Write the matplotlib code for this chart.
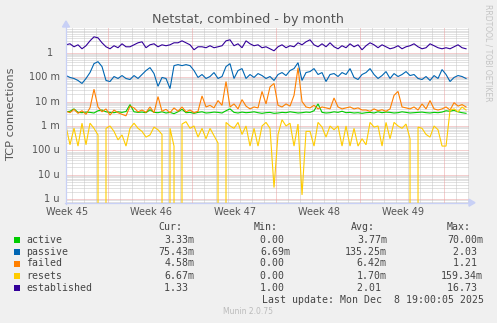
import numpy as np
import matplotlib
matplotlib.use('Agg')
import matplotlib.pyplot as plt
from matplotlib.patches import Rectangle, Polygon
from matplotlib.lines import Line2D

# ---------------- data ----------------
sample_hours = 8  # one sample every 8 hours
days_shown = 33.58

active_m = [3.8, 4.0, 5.0, 3.6, 3.5, 3.7, 3.6, 3.4, 4.2, 4.5, 3.8, 3.6, 3.5, 3.8, 3.6, 3.9, 7.5, 3.8, 3.6, 3.7, 3.5, 4.6, 3.6, 3.5, 3.8, 3.4,
            3.6, 3.2, 3.8, 4.8, 3.5, 3.6, 3.3, 3.6, 3.8, 3.4, 3.5, 3.7, 3.6, 3.4, 4.2, 5.0, 3.6, 3.4, 3.7, 3.5, 3.6, 3.8, 3.5, 3.3,
            3.5, 3.6, 3.3, 3.4, 3.6, 3.5, 3.8, 3.6, 3.4, 3.5, 3.7, 3.6, 4.2, 8.0, 3.6, 3.4, 3.5, 3.8, 3.6, 4.0, 3.5, 3.6, 3.4, 3.5, 3.3,
            3.5, 3.6, 3.4, 3.8, 3.5, 3.7, 3.6, 3.4, 3.5, 3.8, 3.6, 3.4, 3.5, 3.6, 3.7, 3.5, 3.4, 3.6, 3.5, 3.7, 4.2, 4.0, 4.4, 3.8, 3.5, 3.3]

passive_m = [116, 97, 88, 73, 55, 88, 154, 357, 430, 270, 73, 66, 106, 88, 116, 88, 80, 116, 88, 128, 186, 246, 140, 42, 97, 88,
             34, 296, 325, 296, 325, 296, 186, 97, 128, 88, 106, 154, 88, 106, 270, 357, 88, 186, 224, 88, 128, 97, 140, 116,
             88, 106, 73, 128, 154, 116, 186, 224, 390, 73, 154, 169, 224, 128, 154, 66, 128, 140, 106, 154, 128, 224, 97, 80, 128,
             154, 224, 128, 88, 116, 169, 88, 140, 106, 128, 169, 116, 128, 88, 80, 106, 73, 116, 88, 204, 128, 66, 97, 116, 106, 88]

failed_m = [4.0, 3.5, 4.8, 3.3, 4.2, 3.0, 5.5, 32, 6.0, 3.8, 5.0, 2.8, 4.5, 3.5, 3.0, 2.6, 6.5, 5.5, 3.8, 4.5, 3.6, 6.0, 3.5, 16, 4.0, 4.8,
            3.5, 5.5, 4.0, 6.0, 3.8, 4.5, 3.5, 4.0, 17, 6.0, 7.0, 5.5, 11, 7.0, 66, 6.0, 8.0, 5.0, 12, 6.5, 5.0, 6.0, 5.5, 26,
            8.0, 40, 55, 7.0, 6.0, 8.0, 6.5, 18, 240, 10, 6.0, 5.5, 7.0, 5.0, 6.0, 5.5, 5.0, 14, 6.0, 5.0, 5.5, 6.0, 5.0, 5.5, 4.5,
            4.5, 4.0, 5.0, 4.2, 4.6, 4.0, 5.0, 18, 26, 6.0, 5.5, 5.0, 6.0, 4.5, 8.0, 5.0, 11, 5.0, 4.5, 5.0, 6.0, 4.5, 9.0, 6.5, 7.5, 6.0]

resets_m = [0.97, 0.17, 0.81, 0.15, 1.3, 0.17, 1.3, 0.8, 0.43, 0, 0.8, 1.0, 0.6, 0.27, 0.43, 0.15, 0.8, 1.3, 0.8, 0.6, 0.35, 0.43, 0.9, 0.7, 0.45, 0,
            0.8, 0.15, 0, 1.2, 1.5, 0.8, 1.0, 0.35, 0.8, 0.3, 0.8, 0.4, 0.2, 0, 1.4, 1.0, 0.8, 1.4, 0.45, 1.0, 0.15, 0.8, 0.15, 1.0,
            1.4, 0.8, 0.003, 0.45, 1.8, 1.0, 1.3, 0.15, 1.2, 0.0015, 0.6, 0.6, 0.15, 1.4, 0.9, 0.35, 1.0, 0.7, 1.0, 0.15, 1.0, 0.15, 0.8, 0.15, 0.3,
            0.17, 1.4, 0.9, 1.0, 0.15, 1.4, 0.3, 1.4, 1.0, 0.8, 1.2, 0.3, 0, 0.9, 0.8, 0.45, 0.35, 1.0, 0.7, 0.15, 0.15, 4.4, 5.0, 3.8, 6.0, 4.5]

established = [2.11, 2.32, 1.75, 2.11, 1.45, 1.93, 3.07, 4.47, 4.07, 2.55, 1.75, 1.45, 1.93, 1.60, 2.32, 1.75, 1.75, 2.11, 2.55, 2.80, 1.60, 2.11, 2.32, 1.75, 2.11, 1.93,
               2.11, 2.55, 2.55, 3.07, 2.55, 2.11, 1.32, 1.75, 1.75, 1.60, 1.93, 1.60, 1.75, 1.93, 3.07, 3.38, 1.93, 2.32, 1.60, 3.07, 2.32, 1.93, 2.11, 1.60,
               1.75, 1.45, 1.20, 1.75, 2.11, 1.60, 1.93, 1.75, 2.55, 2.11, 2.80, 3.38, 2.11, 1.75, 2.32, 1.75, 2.55, 1.75, 1.45, 1.93, 1.60, 2.32, 1.75, 2.11, 1.32,
               1.93, 2.55, 2.11, 1.60, 2.11, 1.75, 1.45, 1.60, 1.93, 1.45, 1.75, 1.93, 2.32, 1.75, 1.45, 1.60, 2.32, 1.93, 1.60, 1.45, 1.60, 1.45, 1.75, 2.11, 1.60, 1.45]

names = ['active', 'passive', 'failed', 'resets', 'established']
colors = ['#00CC00', '#0066B3', '#FF8000', '#FFCC00', '#330099']
cur_vals = ['3.33m', '75.43m', '4.58m', '6.67m', '1.33 ']
min_vals = ['0.00 ', '6.69m', '0.00 ', '0.00 ', '1.00 ']
avg_vals = ['3.77m', '135.25m', '6.42m', '1.70m', '2.01 ']
max_vals = ['70.00m', '2.03 ', '1.21 ', '159.34m', '16.73 ']

week_days = [0, 7, 14, 21, 28]
week_labels = ['Week 45', 'Week 46', 'Week 47', 'Week 48', 'Week 49']
ytick_vals = [1e-6, 1e-5, 1e-4, 1e-3, 1e-2, 1e-1, 1]
ytick_labels = ['1 u', '10 u', '100 u', '1 m', '10 m', '100 m', '1']

title = 'Netstat, combined - by month'
ylabel = 'TCP connections'
last_update = 'Last update: Mon Dec  8 19:00:05 2025'
footer = 'Munin 2.0.75'
side_text = 'RRDTOOL / TOBI OETIKER'

# ---------------- layout ----------------
W, H, DPI = 497, 323, 100
L, R, T, B = 66, 469, 28.3, 202.7

def fx(p):
    return p / W

def fy(p):
    return 1 - p / H

fig = plt.figure(figsize=(W / DPI, H / DPI), dpi=DPI, facecolor='#F0F0F0')
ax = fig.add_axes([fx(L), fy(B), (R - L) / W, (B - T) / H])
ax.set_facecolor('white')
ax.set_yscale('log', nonpositive='clip')
ax.set_ylim(7.2e-7, 10)
ax.set_xlim(0, days_shown)
ax.set_xticks([])
ax.set_yticks([])
ax.minorticks_off()
for s in ax.spines.values():
    s.set_visible(False)

minor_c = '#C6C6C6'
major_c = '#EBA0A0'
dot = (0, (1, 1))
# horizontal grid
for d in range(-7, 1):
    for k in range(2, 10):
        v = k * 10.0 ** d
        if 7.2e-7 < v < 10:
            ax.axhline(v, color=minor_c, lw=0.72, ls=dot, zorder=1)
for v in ytick_vals:
    ax.axhline(v, color=major_c, lw=0.72, ls=dot, zorder=1.5)
# vertical grid
for d in np.arange(0.5, days_shown, 1.0):
    if abs(((d - 3.5) % 7)) < 1e-6:
        ax.axvline(d, color=major_c, lw=0.72, ls=dot, zorder=1.5)
    else:
        ax.axvline(d, color=minor_c, lw=0.72, ls=dot, zorder=1)

# series
t = np.arange(len(active_m)) * sample_hours / 24.0
series = [np.array(active_m) * 1e-3, np.array(passive_m) * 1e-3, np.array(failed_m) * 1e-3,
          np.array(resets_m) * 1e-3, np.array(established)]
for i, (y, c) in enumerate(zip(series, colors)):
    ax.plot(t, y, color=c, lw=0.8, zorder=3 + i, solid_joinstyle='miter')

# axis lines with arrows
axis_c = '#C8D0F6'
fig.add_artist(Line2D([fx(L), fx(L)], [fy(B + 1), fy(25)], color=axis_c, lw=0.9))
fig.add_artist(Line2D([fx(L - 1), fx(470)], [fy(B), fy(B)], color=axis_c, lw=0.9))
fig.add_artist(Polygon([[fx(L - 3.5), fy(27)], [fx(L + 3.5), fy(27)], [fx(L), fy(21)]],
                       closed=True, color=axis_c))
fig.add_artist(Polygon([[fx(469), fy(B - 3.5)], [fx(469), fy(B + 3.5)], [fx(475), fy(B)]],
                       closed=True, color=axis_c))

text_c = '#555555'
# y tick labels
for v, lab in zip(ytick_vals, ytick_labels):
    off = 13 if lab == '1' else 6
    ax.text(-off / (R - L), v, lab, transform=ax.get_yaxis_transform(), ha='right', va='center',
            fontsize=7, color=text_c, family='DejaVu Sans')
# x labels
for d, lab in zip(week_days, week_labels):
    ax.text(d + 0.08, -9.3 / (B - T), lab, transform=ax.get_xaxis_transform(), ha='center', va='center',
            fontsize=7, color=text_c, family='DejaVu Sans')

fig.text(fx(247.5), fy(19), title, ha='center', va='center', fontsize=9.2, color=text_c, family='DejaVu Sans')
fig.text(fx(11), fy(114), ylabel, rotation=90, ha='center', va='center', fontsize=8.2, color=text_c,
         family='DejaVu Sans')
fig.text(fx(488), fy(53), side_text, rotation=270, ha='center', va='center', fontsize=5.5, color='#C4C4C4',
         family='DejaVu Sans')

# legend
mono = 'DejaVu Sans Mono'
cw = 5.97
lfs = 7.1
leg_c = '#444444'
fig.text(fx(158), fy(227.3), 'Cur:', ha='left', va='center', fontsize=lfs, family=mono, color=leg_c)
fig.text(fx(254), fy(227.3), 'Min:', ha='left', va='center', fontsize=lfs, family=mono, color=leg_c)
fig.text(fx(351), fy(227.3), 'Avg:', ha='left', va='center', fontsize=lfs, family=mono, color=leg_c)
fig.text(fx(447), fy(227.3), 'Max:', ha='left', va='center', fontsize=lfs, family=mono, color=leg_c)
row_y = [239.7, 252.0, 263.5, 275.7, 287.7]
col_right = [194.3, 290.0, 386.7, 482.7]
for i, nm in enumerate(names):
    yy = row_y[i]
    fig.add_artist(Rectangle((fx(14), fy(yy + 3)), 6 / W, 6 / H, facecolor=colors[i], edgecolor='none'))
    fig.text(fx(26), fy(yy), nm, ha='left', va='center', fontsize=lfs, family=mono, color=leg_c)
    for vals, rx in zip([cur_vals, min_vals, avg_vals, max_vals], col_right):
        s = vals[i]
        fig.text(fx(rx - len(s) * cw), fy(yy), s, ha='left', va='center', fontsize=lfs, family=mono, color=leg_c)
fig.text(fx(482.7 - len(last_update) * cw), fy(299.7), last_update, ha='left', va='center', fontsize=lfs,
         family=mono, color=leg_c)
fig.text(fx(248), fy(311.7), footer, ha='center', va='center', fontsize=5.5, color='#BBBBBB', family='DejaVu Sans')

fig.savefig('out.png', dpi=DPI, facecolor=fig.get_facecolor())
